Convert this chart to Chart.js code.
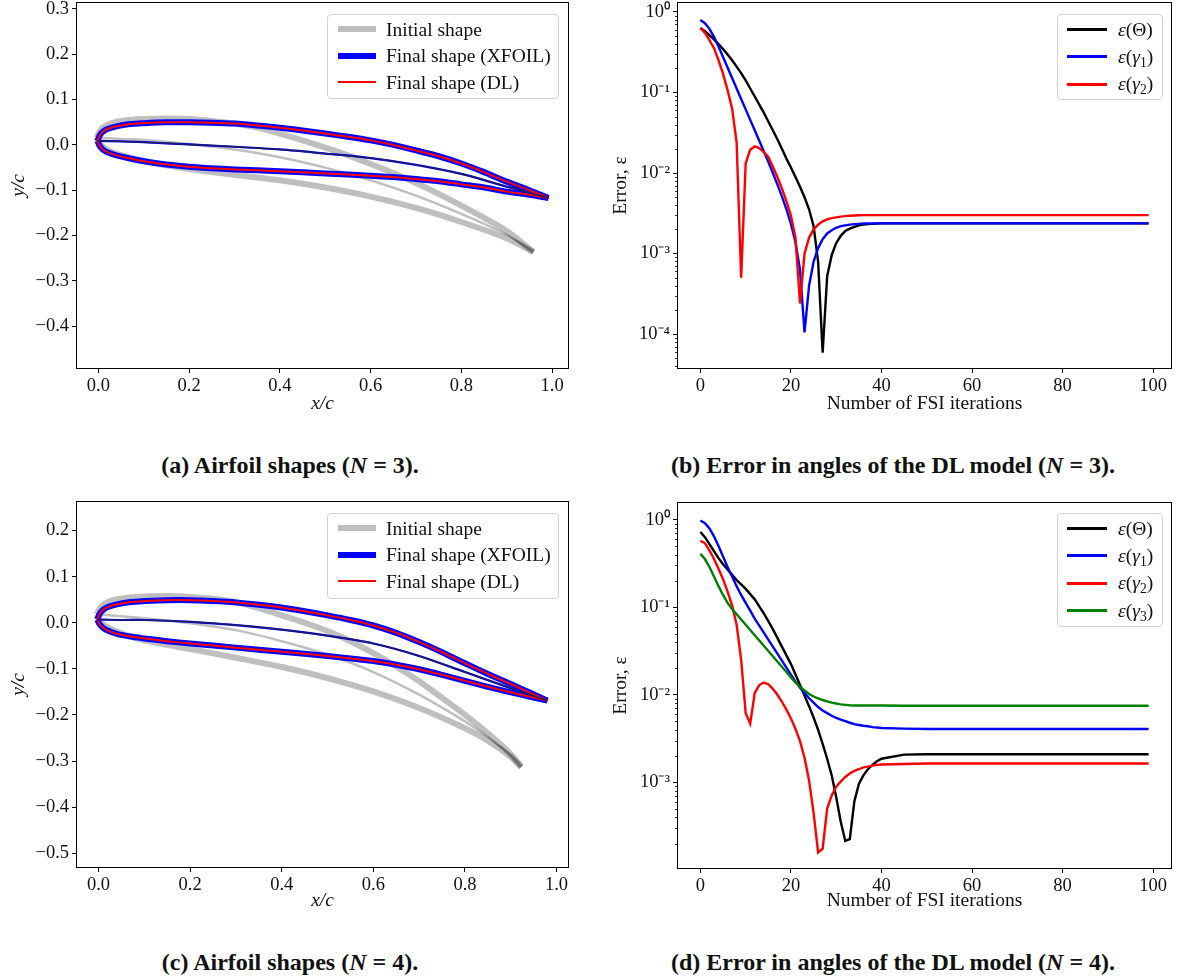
<!DOCTYPE html>
<html lang="en">
<head>
<meta charset="utf-8">
<title>Airfoil shapes and DL angle errors</title>
<script src="https://cdn.jsdelivr.net/npm/chart.js@4.4.1/dist/chart.umd.min.js"></script>
<style>
  html, body { margin: 0; background: #fff; }
  #page { position: relative; width: 1177px; height: 977px; overflow: hidden; font-family: "Liberation Serif", "Times New Roman", serif; color: #111; }
  canvas { position: absolute; }
  .legend { position: absolute; box-sizing: border-box; border: 1px solid #d2d2d2; border-radius: 4px; background: rgba(255,255,255,0.8); }
  .legend .row { display: flex; align-items: center; white-space: nowrap; }
  .legend .swatch { display: inline-block; flex: none; }
  .legend .txt { font-size: 19.5px; line-height: 1; }
  .legend sub { font-size: 0.7em; vertical-align: -0.3em; line-height: 0; }
  .caption { position: absolute; transform: translate(-50%, -50%); font-weight: bold; font-size: 24px; white-space: nowrap; }
</style>
</head>
<body>
<div id="page">
  <canvas id="chartA" width="580" height="420" style="left:0;top:0"></canvas>
  <canvas id="chartB" width="587" height="420" style="left:590px;top:0"></canvas>
  <canvas id="chartC" width="580" height="420" style="left:0;top:497px"></canvas>
  <canvas id="chartD" width="587" height="420" style="left:590px;top:497px"></canvas>

  <div class="legend" id="legA" style="left:327px;top:14px;width:232px;height:85px"></div>
  <div class="legend" id="legB" style="left:1057px;top:14px;width:106px;height:86px"></div>
  <div class="legend" id="legC" style="left:327px;top:513px;width:232px;height:86px"></div>
  <div class="legend" id="legD" style="left:1057px;top:513px;width:106px;height:114px"></div>

  <div class="caption" style="left:290px;top:465px">(a) Airfoil shapes (<i>N</i> = 3).</div>
  <div class="caption" style="left:893px;top:465px">(b) Error in angles of the DL model (<i>N</i> = 3).</div>
  <div class="caption" style="left:290px;top:962px">(c) Airfoil shapes (<i>N</i> = 4).</div>
  <div class="caption" style="left:893px;top:962px">(d) Error in angles of the DL model (<i>N</i> = 4).</div>
</div>

<script>
// ---- airfoil outlines, N = 3  ([x/c, y/c]) ----
const aInitUpper = [[-0.004,0.016],[0.003,0.030],[0.010,0.038],[0.020,0.044],[0.040,0.051],[0.070,0.055],[0.10,0.057],[0.15,0.058],[0.20,0.057],[0.25,0.053],[0.30,0.047],[0.35,0.038],[0.40,0.025],[0.45,0.010],[0.50,-0.006],[0.55,-0.023],[0.60,-0.042],[0.65,-0.062],[0.70,-0.084],[0.75,-0.108],[0.80,-0.134],[0.85,-0.161],[0.90,-0.190],[0.959,-0.236]];
const aInitLower = [[-0.004,0.016],[0.003,0.004],[0.010,-0.004],[0.020,-0.011],[0.040,-0.019],[0.070,-0.028],[0.10,-0.035],[0.15,-0.045],[0.20,-0.053],[0.30,-0.066],[0.40,-0.078],[0.50,-0.094],[0.60,-0.114],[0.70,-0.139],[0.80,-0.170],[0.90,-0.206],[0.959,-0.236]];
const aInitCamber = [[-0.004,0.016],[0.05,0.013],[0.10,0.011],[0.20,0.002],[0.30,-0.010],[0.40,-0.027],[0.50,-0.050],[0.60,-0.078],[0.70,-0.112],[0.80,-0.152],[0.90,-0.198],[0.959,-0.236]];
const aFinalUpper = [[-0.002,0.009],[0.003,0.021],[0.010,0.029],[0.020,0.035],[0.040,0.041],[0.070,0.046],[0.10,0.048],[0.15,0.050],[0.20,0.050],[0.25,0.049],[0.30,0.047],[0.35,0.043],[0.40,0.038],[0.45,0.032],[0.50,0.025],[0.55,0.018],[0.60,0.010],[0.65,0.000],[0.70,-0.012],[0.75,-0.025],[0.80,-0.041],[0.85,-0.060],[0.90,-0.081],[0.95,-0.100],[0.992,-0.117]];
const aFinalLower = [[-0.002,0.009],[0.003,-0.002],[0.010,-0.010],[0.020,-0.016],[0.040,-0.023],[0.070,-0.030],[0.10,-0.036],[0.15,-0.043],[0.20,-0.048],[0.30,-0.054],[0.40,-0.058],[0.50,-0.063],[0.60,-0.068],[0.65,-0.071],[0.70,-0.075],[0.75,-0.080],[0.80,-0.087],[0.85,-0.094],[0.90,-0.103],[0.95,-0.110],[0.992,-0.117]];
const aFinalCamber = [[-0.002,0.009],[0.05,0.008],[0.10,0.006],[0.20,0.001],[0.30,-0.004],[0.40,-0.010],[0.50,-0.019],[0.60,-0.029],[0.70,-0.044],[0.80,-0.064],[0.90,-0.092],[0.992,-0.117]];

// ---- airfoil outlines, N = 4 ----
const cInitUpper = [[-0.004,0.018],[0.003,0.031],[0.010,0.039],[0.020,0.045],[0.040,0.051],[0.070,0.055],[0.10,0.057],[0.15,0.058],[0.20,0.056],[0.25,0.052],[0.30,0.045],[0.35,0.032],[0.40,0.016],[0.45,0.000],[0.50,-0.018],[0.55,-0.040],[0.60,-0.066],[0.65,-0.095],[0.70,-0.127],[0.75,-0.163],[0.80,-0.200],[0.85,-0.240],[0.90,-0.285],[0.923,-0.313]];
const cInitLower = [[-0.004,0.018],[0.003,0.006],[0.010,-0.003],[0.020,-0.010],[0.040,-0.019],[0.070,-0.030],[0.10,-0.038],[0.15,-0.048],[0.20,-0.057],[0.30,-0.076],[0.40,-0.096],[0.50,-0.120],[0.60,-0.149],[0.70,-0.185],[0.80,-0.229],[0.85,-0.256],[0.90,-0.291],[0.923,-0.313]];
const cInitCamber = [[-0.004,0.018],[0.05,0.014],[0.10,0.010],[0.20,-0.001],[0.30,-0.016],[0.40,-0.040],[0.50,-0.069],[0.60,-0.107],[0.70,-0.156],[0.80,-0.214],[0.85,-0.248],[0.90,-0.288],[0.923,-0.313]];
const cFinalUpper = [[-0.003,0.007],[0.003,0.020],[0.010,0.028],[0.020,0.034],[0.040,0.040],[0.070,0.045],[0.10,0.047],[0.15,0.049],[0.20,0.049],[0.25,0.047],[0.30,0.044],[0.35,0.039],[0.40,0.033],[0.45,0.025],[0.50,0.016],[0.55,0.006],[0.60,-0.006],[0.65,-0.022],[0.70,-0.042],[0.75,-0.064],[0.80,-0.088],[0.85,-0.111],[0.90,-0.133],[0.94,-0.151],[0.98,-0.169]];
const cFinalLower = [[-0.003,0.007],[0.003,-0.004],[0.010,-0.011],[0.020,-0.017],[0.040,-0.024],[0.070,-0.030],[0.10,-0.034],[0.15,-0.040],[0.20,-0.045],[0.30,-0.054],[0.40,-0.063],[0.50,-0.072],[0.60,-0.083],[0.65,-0.091],[0.70,-0.101],[0.75,-0.113],[0.80,-0.126],[0.85,-0.139],[0.90,-0.151],[0.94,-0.160],[0.98,-0.169]];
const cFinalCamber = [[-0.003,0.007],[0.05,0.006],[0.10,0.006],[0.20,0.002],[0.30,-0.005],[0.40,-0.015],[0.50,-0.028],[0.60,-0.045],[0.70,-0.072],[0.80,-0.107],[0.90,-0.142],[0.98,-0.169]];

// ---- error histories (FSI iteration -> error) ----
const iterations = [0,1,2,3,4,5,6,7,8,9,10,11,12,13,14,15,16,17,18,19,20,21,22,23,24,25,26,27,28,29,30,31,32,33,34,35,36,37,38,39,40,45,50,55,60,65,70,75,80,85,90,95,99];

const bTheta = [0.631,0.575,0.513,0.457,0.398,0.347,0.295,0.251,0.209,0.174,0.141,0.112,0.0891,0.0708,0.0562,0.0437,0.0339,0.0263,0.0200,0.0151,0.0117,0.00891,0.00676,0.00501,0.00355,0.00219,0.000794,0.0000589,0.000525,0.000955,0.00135,0.00166,0.00191,0.00204,0.00214,0.00224,0.00229,0.00232,0.00234,0.00236,0.00237,0.00237,0.00237,0.00237,0.00237,0.00237,0.00237,0.00237,0.00237,0.00237,0.00237,0.00237,0.00237];
const bGamma1 = [0.794,0.724,0.617,0.490,0.372,0.275,0.204,0.151,0.112,0.0832,0.0617,0.0457,0.0339,0.0251,0.0186,0.0138,0.0100,0.00724,0.00513,0.00355,0.00234,0.00138,0.000631,0.000105,0.000398,0.000794,0.00117,0.00151,0.00178,0.00195,0.00209,0.00219,0.00224,0.00229,0.00232,0.00234,0.00236,0.00237,0.00237,0.00237,0.00237,0.00237,0.00237,0.00237,0.00237,0.00237,0.00237,0.00237,0.00237,0.00237,0.00237,0.00237,0.00237];
const bGamma2 = [0.631,0.550,0.447,0.355,0.251,0.170,0.107,0.0631,0.0240,0.000501,0.0132,0.0195,0.0214,0.0204,0.0182,0.0158,0.0120,0.00891,0.00646,0.00447,0.00295,0.00158,0.000240,0.00100,0.00158,0.00200,0.00229,0.00251,0.00266,0.00275,0.00282,0.00288,0.00292,0.00295,0.00297,0.00299,0.00300,0.00300,0.00300,0.00300,0.00300,0.00300,0.00300,0.00300,0.00300,0.00300,0.00300,0.00300,0.00300,0.00300,0.00300,0.00300,0.00300];

const dTheta = [0.724,0.631,0.525,0.437,0.363,0.309,0.269,0.234,0.204,0.182,0.162,0.141,0.123,0.102,0.0851,0.0692,0.0562,0.0447,0.0355,0.0282,0.0224,0.0170,0.0129,0.00977,0.00741,0.00550,0.00398,0.00275,0.00186,0.00120,0.000676,0.000355,0.000214,0.000224,0.000603,0.000955,0.00120,0.00141,0.00158,0.00174,0.00186,0.00207,0.00209,0.00209,0.00209,0.00209,0.00209,0.00209,0.00209,0.00209,0.00209,0.00209,0.00209];
const dGamma1 = [0.977,0.912,0.794,0.646,0.501,0.380,0.288,0.224,0.174,0.138,0.112,0.0912,0.0741,0.0617,0.0513,0.0427,0.0355,0.0295,0.0245,0.0204,0.0170,0.0141,0.0120,0.0105,0.00912,0.00813,0.00724,0.00661,0.00617,0.00575,0.00543,0.00519,0.00501,0.00479,0.00462,0.00452,0.00442,0.00437,0.00427,0.00422,0.00417,0.00410,0.00407,0.00407,0.00407,0.00407,0.00407,0.00407,0.00407,0.00407,0.00407,0.00407,0.00407];
const dGamma2 = [0.575,0.537,0.447,0.355,0.275,0.209,0.151,0.105,0.0631,0.0251,0.00617,0.00468,0.0105,0.0129,0.0138,0.0132,0.0117,0.0100,0.00832,0.00676,0.00537,0.00407,0.00295,0.00191,0.00105,0.000447,0.000158,0.000174,0.000501,0.000708,0.000891,0.00102,0.00115,0.00126,0.00135,0.00141,0.00148,0.00151,0.00155,0.00158,0.00160,0.00162,0.00164,0.00164,0.00164,0.00164,0.00164,0.00164,0.00164,0.00164,0.00164,0.00164,0.00164];
const dGamma3 = [0.407,0.355,0.288,0.224,0.174,0.138,0.112,0.0955,0.0832,0.0724,0.0631,0.0550,0.0479,0.0417,0.0363,0.0316,0.0275,0.0240,0.0209,0.0182,0.0158,0.0138,0.0123,0.0112,0.0102,0.00955,0.00912,0.00871,0.00841,0.00813,0.00794,0.00776,0.00767,0.00759,0.00755,0.00755,0.00755,0.00755,0.00755,0.00755,0.00755,0.00750,0.00750,0.00750,0.00750,0.00750,0.00750,0.00750,0.00750,0.00750,0.00750,0.00750,0.00750];

// ---- tick labels ----
const shapeXTicks = [0, 0.2, 0.4, 0.6, 0.8, 1.0];
const shapeYTicksA = [0.3, 0.2, 0.1, 0, -0.1, -0.2, -0.3, -0.4];
const shapeYTicksC = [0.2, 0.1, 0, -0.1, -0.2, -0.3, -0.4, -0.5];
const iterTicks = [0, 20, 40, 60, 80, 100];
const errTicksB = [1, 0.1, 0.01, 0.001, 0.0001];
const errTicksD = [1, 0.1, 0.01, 0.001];

const serif = '"Liberation Serif", "Times New Roman", serif';
const grey = 'rgba(0, 0, 0, 0.25)';
const superDigits = { '-': '\u207B', '0': '\u2070', '1': '\u00B9', '2': '\u00B2', '3': '\u00B3', '4': '\u2074', '5': '\u2075' };

function fmtDecimal(v) {
    return (v < -1e-9 ? '\u2212' : '') + Math.abs(v).toFixed(1);
}
function fmtPower(v) {
    const e = String(Math.round(Math.log10(v)));
    return '10' + e.split('').map(c => superDigits[c]).join('');
}

// outer box + log minor ticks, matplotlib style
const framePlugin = {
    id: 'frame',
    afterDraw(chart) {
        const { ctx, chartArea: a } = chart;
        ctx.save();
        ctx.strokeStyle = '#000';
        ctx.lineWidth = 1;
        ctx.strokeRect(a.left - 0.5, a.top - 0.5, a.right - a.left + 1, a.bottom - a.top + 1);
        const ys = chart.scales.y;
        if (ys.type === 'logarithmic') {
            ctx.lineWidth = 0.8;
            ctx.beginPath();
            const k0 = Math.floor(Math.log10(ys.min)), k1 = Math.ceil(Math.log10(ys.max));
            for (let k = k0; k <= k1; k++) {
                for (let m = 2; m <= 9; m++) {
                    const v = m * Math.pow(10, k);
                    if (v < ys.min || v > ys.max) continue;
                    const y = Math.round(ys.getPixelForValue(v)) + 0.5;
                    ctx.moveTo(a.left - 3, y);
                    ctx.lineTo(a.left, y);
                }
            }
            ctx.stroke();
        }
        ctx.restore();
    }
};

function xAxis(min, max, tickValues, format, title, italic, height) {
    return {
        type: 'linear', min: min, max: max,
        afterBuildTicks: s => { s.ticks = tickValues.map(v => ({ value: v })); },
        afterFit: s => { s.height = height; s.paddingLeft = 0; s.paddingRight = 0; },
        grid: { drawOnChartArea: false, drawTicks: true, tickLength: 5, tickColor: '#000', tickWidth: 1 },
        border: { display: false },
        ticks: { font: { family: serif, size: 18.5 }, color: '#111', padding: 2, maxRotation: 0, autoSkip: false, callback: v => format(v) },
        title: { display: true, text: title, color: '#111', font: { family: serif, size: 19.5, style: italic ? 'italic' : 'normal' }, padding: { top: 0, bottom: 4 } }
    };
}

function yAxis(type, min, max, tickValues, format, title, italic, titlePad, width) {
    return {
        type: type, min: min, max: max,
        afterBuildTicks: s => { s.ticks = tickValues.map(v => ({ value: v })); },
        afterFit: s => { s.width = width; s.paddingTop = 0; s.paddingBottom = 0; },
        grid: { drawOnChartArea: false, drawTicks: true, tickLength: 5, tickColor: '#000', tickWidth: 1 },
        border: { display: false },
        ticks: { font: { family: serif, size: 18.5 }, color: '#111', padding: 3, autoSkip: false, callback: v => format(v) },
        title: { display: true, text: title, color: '#111', font: { family: serif, size: 19.5, style: italic ? 'italic' : 'normal' }, padding: { top: titlePad, bottom: 0 } }
    };
}

function shapeLine(points, color, width, order, legendText) {
    return {
        data: points.map(p => ({ x: p[0], y: p[1] })),
        borderColor: color, backgroundColor: color, borderWidth: width,
        pointRadius: 0, tension: 0.3, fill: false, order: order,
        legendText: legendText || null, legendWidth: width
    };
}

function errLine(values, color, order, legendText) {
    return {
        data: iterations.map((it, i) => ({ x: it, y: values[i] })),
        borderColor: color, backgroundColor: color, borderWidth: 2.4,
        pointRadius: 0, tension: 0, fill: false, order: order,
        legendText: legendText, legendWidth: 3
    };
}

function baseOptions(x, y, pad) {
    return {
        responsive: false, animation: false, events: [],
        layout: { padding: pad, autoPadding: false },
        plugins: { legend: { display: false }, tooltip: { enabled: false } },
        scales: { x: x, y: y }
    };
}

function shapeChart(id, init, fin, xr, yr, yTicks, padTop) {
    const datasets = [
        shapeLine(init[0], grey, 6, 9, 'Initial shape'),
        shapeLine(init[1], grey, 6, 8),
        shapeLine(init[2], grey, 2.5, 7),
        shapeLine(fin[0], '#0000ff', 6, 6, 'Final shape (XFOIL)'),
        shapeLine(fin[1], '#0000ff', 6, 5),
        shapeLine(fin[2], '#0000ff', 2.2, 4),
        shapeLine(fin[0], '#ff0000', 2, 3, 'Final shape (DL)'),
        shapeLine(fin[1], '#ff0000', 2, 2),
        shapeLine(fin[2], '#1c1c66', 1.5, 1)
    ];
    return new Chart(document.getElementById(id), {
        type: 'line',
        data: { datasets: datasets },
        options: baseOptions(
            xAxis(xr[0], xr[1], shapeXTicks, fmtDecimal, 'x/c', true, 420 - 368 - (padTop - 3)),
            yAxis('linear', yr[0], yr[1], yTicks, fmtDecimal, 'y/c', true, 7, 77),
            { left: 0, top: padTop, right: 12, bottom: 0 }),
        plugins: [framePlugin]
    });
}

function errorChart(id, datasets, yr, yTicks, padTop) {
    return new Chart(document.getElementById(id), {
        type: 'line',
        data: { datasets: datasets },
        options: baseOptions(
            xAxis(-4.95, 103.95, iterTicks, v => String(v), 'Number of FSI iterations', false, 420 - 368 - (padTop - 3)),
            yAxis('logarithmic', yr[0], yr[1], yTicks, fmtPower, 'Error, \u03B5', false, 19, 88),
            { left: 0, top: padTop, right: 6, bottom: 0 }),
        plugins: [framePlugin]
    });
}

// HTML legend built from the chart's datasets
function htmlLegend(chart, boxId, rowH, swatchW, gap, padLeft, padTop) {
    const box = document.getElementById(boxId);
    box.style.padding = padTop + 'px 0 0 ' + padLeft + 'px';
    chart.data.datasets.forEach(ds => {
        if (!ds.legendText) return;
        const row = document.createElement('div');
        row.className = 'row';
        row.style.height = rowH + 'px';
        const sw = document.createElement('span');
        sw.className = 'swatch';
        sw.style.width = swatchW + 'px';
        sw.style.height = ds.legendWidth + 'px';
        sw.style.background = ds.borderColor;
        sw.style.marginRight = gap + 'px';
        const tx = document.createElement('span');
        tx.className = 'txt';
        tx.innerHTML = ds.legendText;
        row.appendChild(sw);
        row.appendChild(tx);
        box.appendChild(row);
    });
}

const chartA = shapeChart('chartA', [aInitUpper, aInitLower, aInitCamber], [aFinalUpper, aFinalLower, aFinalCamber],
    [-0.047, 1.035], [-0.492, 0.313], shapeYTicksA, 3);
const chartC = shapeChart('chartC', [cInitUpper, cInitLower, cInitCamber], [cFinalUpper, cFinalLower, cFinalCamber],
    [-0.047, 1.025], [-0.530, 0.262], shapeYTicksC, 5);

const chartB = errorChart('chartB', [
    errLine(bTheta, '#000000', 3, '<i>\u03B5</i>(\u0398)'),
    errLine(bGamma1, '#0000ff', 2, '<i>\u03B5</i>(<i>\u03B3</i><sub>1</sub>)'),
    errLine(bGamma2, '#ff0000', 1, '<i>\u03B5</i>(<i>\u03B3</i><sub>2</sub>)')
], [3.8e-5, 1.29], errTicksB, 3);

const chartD = errorChart('chartD', [
    errLine(dTheta, '#000000', 3, '<i>\u03B5</i>(\u0398)'),
    errLine(dGamma1, '#0000ff', 2, '<i>\u03B5</i>(<i>\u03B3</i><sub>1</sub>)'),
    errLine(dGamma2, '#ff0000', 1, '<i>\u03B5</i>(<i>\u03B3</i><sub>2</sub>)'),
    errLine(dGamma3, '#008000', 0, '<i>\u03B5</i>(<i>\u03B3</i><sub>3</sub>)')
], [1.05e-4, 1.55], errTicksD, 6);

htmlLegend(chartA, 'legA', 26.5, 38, 10, 10, 1);
htmlLegend(chartC, 'legC', 26.5, 38, 10, 10, 1);
htmlLegend(chartB, 'legB', 27.3, 40, 11, 9, 1);
htmlLegend(chartD, 'legD', 27.3, 40, 11, 9, 1);
</script>
</body>
</html>
